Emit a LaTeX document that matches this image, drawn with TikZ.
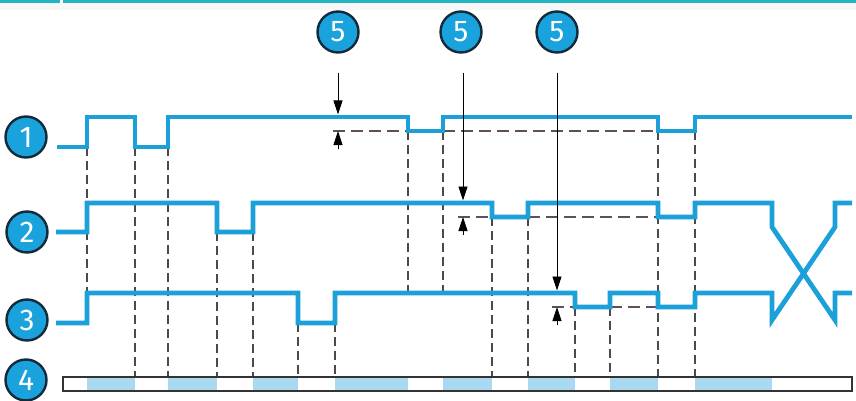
\documentclass[tikz,border=0pt]{standalone}
\usepackage{fontspec}
\setmainfont{Fira Sans}
\usetikzlibrary{arrows.meta}
\definecolor{tracec}{HTML}{1BA0DA}
\definecolor{circfill}{HTML}{1AA2DD}
\definecolor{circline}{HTML}{142A3A}
\definecolor{lightb}{HTML}{A9D8F1}
\definecolor{topbar}{HTML}{22B5C1}
\definecolor{dashc}{HTML}{4A4A4A}
\definecolor{hdashc}{HTML}{5E4E5E}
\definecolor{barline}{HTML}{333333}
\begin{document}
\begin{tikzpicture}[x=1pt,y=-1pt,
  num/.style={circle, fill=circfill, draw=circline, line width=2.4pt, minimum size=41pt, inner sep=0pt, text=white, font=\fontsize{30}{30}\selectfont},
  sig/.style={draw=tracec, line width=4.8pt, line join=miter, line cap=butt},
  vdash/.style={draw=dashc, line width=1.2pt, dash pattern=on 9pt off 5pt},
  hdash/.style={draw=hdashc, line width=1.2pt, dash pattern=on 12pt off 6pt},
  arr/.style={draw=black, line width=0.8pt, -{Triangle[length=14pt,width=9pt]}},
  seg/.style={fill=lightb}
]
\useasboundingbox (0,0) rectangle (856,401);
\fill[white] (0,0) rectangle (856,401);
\fill[gray!6] (0,3) rectangle (856,10);
\fill[topbar] (0,0) rectangle (856,3.5);
\fill[white] (60,0) rectangle (62.5,3.5);

% vertical dashed guide lines
\foreach \x/\a/\b in {87/147/293, 135/147/377, 168/147/377, 217/232/377, 253/232/377,
  298/323/377, 335/323/377, 408/131/293, 443/131/293, 492/217/377, 528/217/377,
  575/307/377, 610/307/377, 658/131/377, 695/131/377}
  \draw[vdash] (\x,\a) -- (\x,\b);

% horizontal dashed reference levels
\draw[hdash] (333,131) -- (408,131);
\draw[hdash] (443,131) -- (658,131);
\draw[hdash] (458,217) -- (492,217);
\draw[hdash] (528,217) -- (658,217);
\draw[hdash] (552,307) -- (575,307);
\draw[hdash] (610,307) -- (658,307);

% bar 4
\foreach \a/\b in {87/135, 168/217, 253/298, 335/408, 443/492, 528/575, 610/658, 695/772}
  \fill[seg] (\a,378) rectangle (\b,390);
\draw[barline, line width=1.6pt] (63,377) rectangle (852,391);

% signal traces
\draw[sig] (57,147) -- (87,147) -- (87,117) -- (135,117) -- (135,147) -- (168,147) -- (168,117)
  -- (408,117) -- (408,131) -- (443,131) -- (443,117) -- (658,117) -- (658,131) -- (695,131)
  -- (695,117) -- (852,117);
\draw[sig] (56,232) -- (87,232) -- (87,203) -- (217,203) -- (217,232) -- (253,232) -- (253,203)
  -- (492,203) -- (492,217) -- (528,217) -- (528,203) -- (658,203) -- (658,217) -- (695,217)
  -- (695,203) -- (772,203) -- (772,227) -- (835,320) -- (835,293) -- (852,293);
\draw[sig] (56,323) -- (87,323) -- (87,293) -- (298,293) -- (298,323) -- (335,323) -- (335,293)
  -- (575,293) -- (575,307) -- (610,307) -- (610,293) -- (658,293) -- (658,307) -- (695,307)
  -- (695,293) -- (772,293) -- (772,320) -- (835,227) -- (835,203) -- (852,203);

% numbered markers
\node[num] (c1) at (26,137) {1};
\node[num] (c2) at (27,232) {2};
\node[num] (c3) at (27,320) {3};
\node[num] (c4) at (26,380) {4};
\node[num] (c5a) at (338,32) {5};
\node[num] (c5b) at (461,32) {5};
\node[num] (c5c) at (557,32) {5};

% tolerance arrows
\coordinate (t1) at (338,114.5);
\coordinate (t2) at (463,200.5);
\coordinate (t3) at (557,290.5);
\draw[arr] (c5a.south) ++(0,19) -- (t1);
\draw[arr] (c5b.south) ++(2,19) -- (t2);
\draw[arr] (c5c.south) ++(0,19) -- (t3);
\coordinate (b1) at (338,131);
\coordinate (b2) at (463,217);
\coordinate (b3) at (557,307);
\draw[arr] (338,149) -- (b1);
\draw[arr] (463,235) -- (b2);
\draw[arr] (557,325) -- (b3);
\end{tikzpicture}
\end{document}
